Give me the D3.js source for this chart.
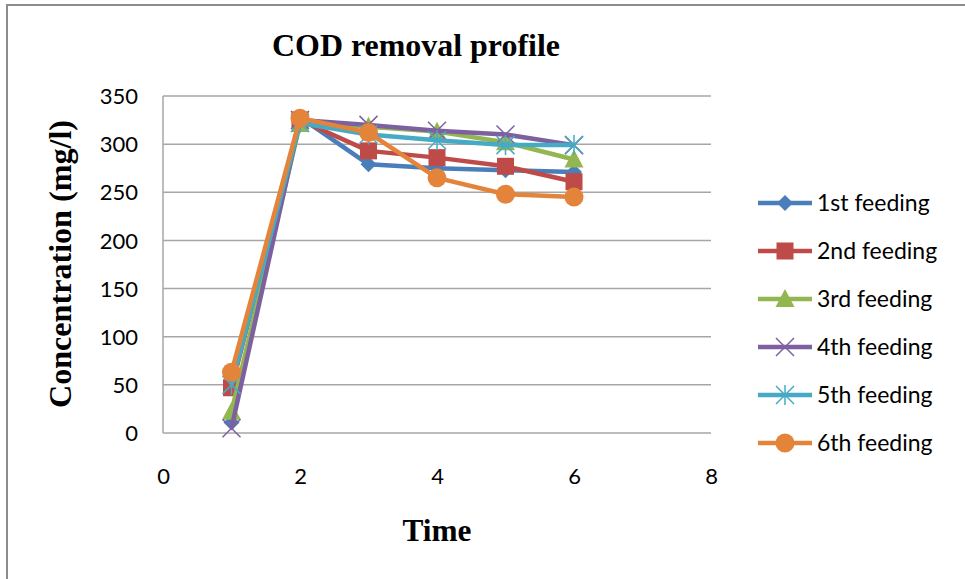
<!DOCTYPE html>
<html lang="en">
<head>
    <meta charset="UTF-8">
    <title>COD removal profile</title>
    <style>
        body {
            margin: 0;
            padding: 0;
            background: #fff;
        }
        #chart {
            width: 965px;
            height: 579px;
        }
        .tick-label {
            font-family: Lato, "Open Sans", sans-serif;
            font-size: 22px;
            fill: #000;
        }
        .legend-label {
            font-family: Lato, "Open Sans", sans-serif;
            font-size: 23px;
            fill: #000;
        }
        .serif-title {
            font-family: "Liberation Serif", "Times New Roman", serif;
            font-weight: bold;
            fill: #000;
        }
    </style>
</head>
<body>
    <div id="chart"></div>

    <script src="https://cdnjs.cloudflare.com/ajax/libs/d3/7.8.5/d3.min.js"></script>
    <script>
        // Data
        var times = [1, 2, 3, 4, 5, 6];
        var seriesNames = ["1st feeding", "2nd feeding", "3rd feeding", "4th feeding", "5th feeding", "6th feeding"];
        var feeding1 = [11, 328, 279, 275, 273, 271];
        var feeding2 = [47, 325, 293, 286, 277, 261];
        var feeding3 = [22, 321, 318, 313, 302, 284];
        var feeding4 = [5, 325, 320, 314, 310, 299];
        var feeding5 = [50, 322, 310, 304, 299, 299];
        var feeding6 = [63, 327, 312, 265, 248, 245];
        var xTicks = [0, 2, 4, 6, 8];
        var yTicks = [0, 50, 100, 150, 200, 250, 300, 350];

        var seriesValues = [feeding1, feeding2, feeding3, feeding4, feeding5, feeding6];
        var colors = ["#4a7ebb", "#be4b48", "#93b650", "#7d60a0", "#46aac5", "#e4843b"];
        var markers = ["diamond", "square", "triangle", "x", "star", "circle"];

        var svgWidth = 965, svgHeight = 579;
        var margin = { top: 96, left: 163, right: 254, bottom: 146 };
        var width = svgWidth - margin.left - margin.right;   // 548
        var height = svgHeight - margin.top - margin.bottom; // 337

        var svg = d3.select("#chart")
            .append("svg")
            .attr("width", svgWidth)
            .attr("height", svgHeight);

        // outer frame (only top and left edges show)
        svg.append("line")
            .attr("x1", 6).attr("x2", svgWidth).attr("y1", 5).attr("y2", 5)
            .attr("stroke", "#8c8c8c").attr("stroke-width", 2);
        svg.append("line")
            .attr("x1", 7).attr("x2", 7).attr("y1", 4).attr("y2", svgHeight)
            .attr("stroke", "#8c8c8c").attr("stroke-width", 2);

        var g = svg.append("g")
            .attr("transform", "translate(" + margin.left + "," + margin.top + ")");

        var x = d3.scaleLinear().domain([0, 8]).range([0, width]);
        var y = d3.scaleLinear().domain([0, 350]).range([height, 0]);

        // horizontal gridlines
        g.selectAll(".grid")
            .data(yTicks)
            .enter().append("line")
            .attr("class", "grid")
            .attr("x1", 0)
            .attr("x2", width)
            .attr("y1", d => y(d))
            .attr("y2", d => y(d))
            .attr("stroke", "#a6a6a6")
            .attr("stroke-width", 1.5);

        // y axis line
        g.append("line")
            .attr("x1", 0).attr("x2", 0)
            .attr("y1", 0).attr("y2", height)
            .attr("stroke", "#a6a6a6")
            .attr("stroke-width", 1.5);

        // y tick labels
        var yAxis = g.append("g")
            .call(d3.axisLeft(y).tickValues(yTicks).tickSize(0).tickPadding(25));
        yAxis.select(".domain").remove();
        yAxis.selectAll("text")
            .attr("class", "tick-label")
            .attr("dy", "0.35em");

        // x tick labels
        var xAxis = g.append("g")
            .attr("transform", "translate(0," + height + ")")
            .call(d3.axisBottom(x).tickValues(xTicks).tickSize(0));
        xAxis.select(".domain").remove();
        xAxis.selectAll("text")
            .attr("class", "tick-label")
            .attr("dy", "0.35em")
            .attr("y", 43);

        // marker drawing
        function drawMarker(sel, type, color) {
            if (type === "diamond") {
                sel.append("path")
                    .attr("d", "M0,-8L8,0L0,8L-8,0Z")
                    .attr("fill", color);
            } else if (type === "square") {
                sel.append("rect")
                    .attr("x", -8.5).attr("y", -8.5)
                    .attr("width", 17).attr("height", 17)
                    .attr("fill", color);
            } else if (type === "triangle") {
                sel.append("path")
                    .attr("d", "M0,-10L9.5,8L-9.5,8Z")
                    .attr("fill", color);
            } else if (type === "x") {
                sel.append("path")
                    .attr("d", "M-9,-9L9,9M-9,9L9,-9")
                    .attr("stroke", color)
                    .attr("stroke-width", 1.5)
                    .attr("fill", "none");
            } else if (type === "star") {
                sel.append("path")
                    .attr("d", "M-9,-9L9,9M-9,9L9,-9M0,-10L0,10")
                    .attr("stroke", color)
                    .attr("stroke-width", 1.5)
                    .attr("fill", "none");
            } else if (type === "circle") {
                sel.append("circle")
                    .attr("r", 9.5)
                    .attr("fill", color);
            }
        }

        var line = d3.line()
            .x(d => x(d[0]))
            .y(d => y(d[1]));

        seriesValues.forEach(function(vals, i) {
            var pts = times.map((t, j) => [t, vals[j]]);
            var sg = g.append("g").attr("class", "series");
            sg.append("path")
                .datum(pts)
                .attr("d", line)
                .attr("fill", "none")
                .attr("stroke", colors[i])
                .attr("stroke-width", 4.5)
                .attr("stroke-linejoin", "round");
            sg.selectAll(".mk")
                .data(pts)
                .enter().append("g")
                .attr("class", "mk")
                .attr("transform", d => "translate(" + x(d[0]) + "," + y(d[1]) + ")")
                .each(function() { drawMarker(d3.select(this), markers[i], colors[i]); });
        });

        // title (condensed like the original)
        svg.append("text")
            .attr("class", "serif-title")
            .attr("x", 416)
            .attr("y", 56)
            .attr("text-anchor", "middle")
            .attr("textLength", 288)
            .attr("lengthAdjust", "spacingAndGlyphs")
            .style("font-size", "32px")
            .text("COD removal profile");

        // axis titles
        svg.append("text")
            .attr("class", "serif-title")
            .attr("transform", "translate(71,264) rotate(-90)")
            .attr("text-anchor", "middle")
            .attr("textLength", 288)
            .attr("lengthAdjust", "spacingAndGlyphs")
            .style("font-size", "31px")
            .text("Concentration (mg/l)");

        svg.append("text")
            .attr("class", "serif-title")
            .attr("x", 437)
            .attr("y", 541)
            .attr("text-anchor", "middle")
            .attr("textLength", 69)
            .attr("lengthAdjust", "spacingAndGlyphs")
            .style("font-size", "32px")
            .text("Time");

        // legend
        var legend = svg.append("g")
            .attr("transform", "translate(758,203)");
        var entry = legend.selectAll("g")
            .data(seriesNames)
            .enter().append("g")
            .attr("transform", (d, i) => "translate(0," + i * 48 + ")");
        entry.append("line")
            .attr("x1", 0).attr("x2", 54)
            .attr("y1", 0).attr("y2", 0)
            .attr("stroke", (d, i) => colors[i])
            .attr("stroke-width", 4.5);
        entry.append("g")
            .attr("transform", "translate(27,0)")
            .each(function(d, i) { drawMarker(d3.select(this), markers[i], colors[i]); });
        entry.append("text")
            .attr("class", "legend-label")
            .attr("x", 59)
            .attr("y", 0)
            .attr("dy", "0.35em")
            .text(d => d);
    </script>
</body>
</html>
